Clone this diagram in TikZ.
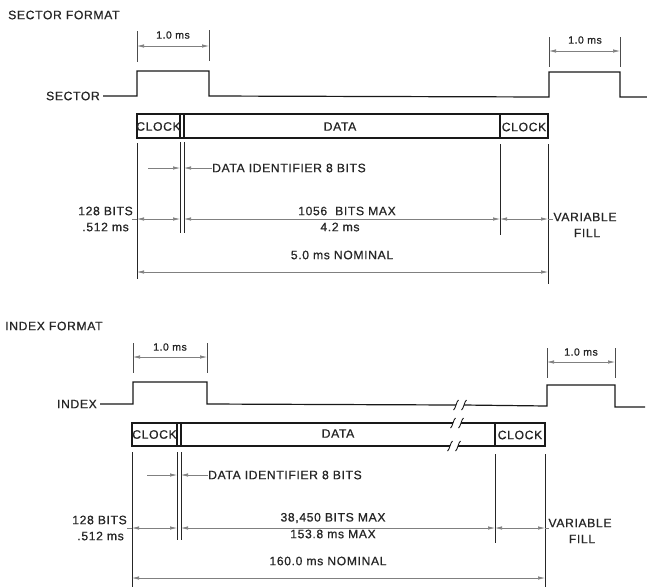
\documentclass[tikz,border=0pt]{standalone}
\usepackage{fontspec}
\setmainfont{Liberation Sans}[LetterSpace=5, FakeBold=0.6]
\usetikzlibrary{arrows.meta}
\tikzset{
  lbl/.style={inner sep=0pt, text=black!85, font=\fontsize{12.2}{14}\selectfont},
  smlbl/.style={inner sep=0pt, text=black!85, font=\fontsize{10.5}{12}\selectfont},
  wave/.style={line width=1.2pt, black!90},
  barline/.style={line width=1.1pt, black!90},
  extline/.style={line width=0.9pt, black!85},
  dimarrow/.style={line width=0.6pt, black!50, {Latex[length=7pt,width=3.4pt]}-{Latex[length=7pt,width=3.4pt]}},
  onearrow/.style={line width=0.6pt, black!50, -{Latex[length=7pt,width=3.4pt]}},
  plainline/.style={line width=0.6pt, black!50},
  breakmark/.pic={\draw[line width=0.9pt, black!90] (-2.5,5) .. controls (-0.5,4) and (0.5,-4) .. (2.5,-5);}
}
\begin{document}
\begin{tikzpicture}[x=1pt,y=-1pt]
\path[use as bounding box, fill=white] (0,0) rectangle (647,587);

% ================= SECTOR FORMAT =================
\node[lbl, anchor=west] (sf) at (8,15) {SECTOR FORMAT};

% waveform
\node[lbl, anchor=east] (sec) at (100,96) {SECTOR};
\coordinate (w0) at (103,96);
\coordinate (w1) at (137,96);
\coordinate (w2) at (137,71);
\coordinate (w3) at (209,71);
\coordinate (w4) at (209,96);
\coordinate (w5) at (549,97);
\coordinate (w6) at (549,72);
\coordinate (w7) at (620,72);
\coordinate (w8) at (620,97);
\coordinate (w9) at (647,97);
\draw[wave] (w0) -- (w1) -- (w2) -- (w3) -- (w4) -- (w5) -- (w6) -- (w7) -- (w8) -- (w9);

% 1.0 ms dimensions
\coordinate (ta1) at (137,31); \coordinate (ta2) at (137,62);
\coordinate (tb1) at (209,30); \coordinate (tb2) at (209,61);
\draw[plainline, black!70] (ta1) -- (ta2);
\draw[plainline, black!70] (tb1) -- (tb2);
\coordinate (da1) at (137,46); \coordinate (da2) at (209,46);
\draw[dimarrow] (da1) -- (da2);
\node[smlbl] (ms1) at (173,35) {1.0 ms};

\coordinate (tc1) at (549,37); \coordinate (tc2) at (549,67);
\coordinate (td1) at (620,37); \coordinate (td2) at (620,67);
\draw[plainline, black!70] (tc1) -- (tc2);
\draw[plainline, black!70] (td1) -- (td2);
\coordinate (db1) at (549,51); \coordinate (db2) at (620,51);
\draw[dimarrow] (db1) -- (db2);
\node[smlbl] (ms2) at (585,40) {1.0 ms};

% bar
\draw[barline] (137,114) rectangle (548,138);
\draw[barline] (180,114) -- (180,138);
\draw[barline] (184,114) -- (184,138);
\draw[barline] (500,114) -- (500,138);
\node[lbl] (clk1) at (158.5,126.5) {CLOCK};
\node[lbl] (data1) at (340,126.5) {DATA};
\node[lbl] (clk2) at (524,127) {CLOCK};

% extension lines
\draw[extline] (137,143) -- (137,279);
\draw[extline] (180,142) -- (180,233);
\draw[extline] (184,142) -- (184,233);
\draw[extline] (500,144) -- (500,235);
\draw[extline] (548,144) -- (548,284);

% data identifier
\node[lbl, anchor=west] (di1) at (212,168) {DATA IDENTIFIER 8 BITS};
\coordinate (dia) at (148,168); \coordinate (dib) at (180,168);
\coordinate (dic) at (184,168);
\draw[onearrow] (dia) -- (dib);
\draw[onearrow] (di1.west) -- (dic);

% bits row
\node[lbl, anchor=east] (b128) at (133,211) {128 BITS};
\node[lbl, anchor=east] (t512) at (129,227) {.512 ms};
\coordinate (r0) at (132,219); \coordinate (r1) at (137,219);
\coordinate (r2) at (180,219); \coordinate (r3) at (184,219);
\coordinate (r4) at (500,219); \coordinate (r5) at (548,219);
\coordinate (r6) at (553,219);
\draw[plainline] (r0) -- (r1);
\draw[dimarrow] (r1) -- (r2);
\draw[dimarrow] (r3) -- (r4);
\draw[dimarrow] (r4) -- (r5);
\draw[plainline] (r5) -- (r6);
\node[lbl] (bmax) at (347,211) {1056\ \ BITS MAX};
\node[lbl] (t42) at (340,227) {4.2 ms};
\node[lbl] (var1) at (585,217) {VARIABLE};
\node[lbl] (fill1) at (587,233) {FILL};

% nominal
\coordinate (n1) at (137,272); \coordinate (n2) at (548,272);
\draw[dimarrow] (n1) -- (n2);
\node[lbl] (nom1) at (342,255) {5.0 ms NOMINAL};

% ================= INDEX FORMAT =================
\node[lbl, anchor=west] (ixf) at (5,326) {INDEX FORMAT};

\node[lbl, anchor=east] (idx) at (97,404) {INDEX};
\coordinate (v0) at (100,404);
\coordinate (v1) at (133,404);
\coordinate (v2) at (133,382);
\coordinate (v3) at (207,382);
\coordinate (v4) at (207,404);
\coordinate (vb1) at (456,405);
\coordinate (vb2) at (464,405);
\coordinate (v5) at (547,406);
\coordinate (v6) at (547,385);
\coordinate (v7) at (615,385);
\coordinate (v8) at (615,407);
\coordinate (v9) at (645,407);
\draw[wave] (v0) -- (v1) -- (v2) -- (v3) -- (v4) -- (vb1);
\draw[wave] (vb2) -- (v5) -- (v6) -- (v7) -- (v8) -- (v9);
\pic at (vb1) {breakmark};
\pic at (vb2) {breakmark};

% 1.0 ms dimensions
\coordinate (te1) at (133,343); \coordinate (te2) at (133,373);
\coordinate (tf1) at (207,343); \coordinate (tf2) at (207,373);
\draw[plainline, black!70] (te1) -- (te2);
\draw[plainline, black!70] (tf1) -- (tf2);
\coordinate (dc1) at (133,357); \coordinate (dc2) at (207,357);
\draw[dimarrow] (dc1) -- (dc2);
\node[smlbl] (ms3) at (170,347) {1.0 ms};

\coordinate (tg1) at (547,348); \coordinate (tg2) at (547,378);
\coordinate (th1) at (615,348); \coordinate (th2) at (615,378);
\draw[plainline, black!70] (tg1) -- (tg2);
\draw[plainline, black!70] (th1) -- (th2);
\coordinate (dd1) at (547,362); \coordinate (dd2) at (615,362);
\draw[dimarrow] (dd1) -- (dd2);
\node[smlbl] (ms4) at (581,352) {1.0 ms};

% bar with break
\coordinate (ba1) at (453,423); \coordinate (ba2) at (461,423);
\coordinate (bb1) at (450,446); \coordinate (bb2) at (458,446);
\draw[barline] (ba1) -- (132,423) -- (132,446) -- (bb1);
\draw[barline] (ba2) -- (545,423) -- (545,446) -- (bb2);
\pic at (ba1) {breakmark};
\pic at (ba2) {breakmark};
\pic at (bb1) {breakmark};
\pic at (bb2) {breakmark};
\draw[barline] (177,423) -- (177,446);
\draw[barline] (181,423) -- (181,446);
\draw[barline] (495,423) -- (495,446);
\node[lbl] (clk3) at (154.5,434.5) {CLOCK};
\node[lbl] (data2) at (338,433.5) {DATA};
\node[lbl] (clk4) at (520,435) {CLOCK};

% extension lines
\draw[extline] (132,452) -- (132,587);
\draw[extline] (177,452) -- (177,540);
\draw[extline] (181,452) -- (181,540);
\draw[extline] (495,454) -- (495,543);
\draw[extline] (545,454) -- (545,587);

% data identifier
\node[lbl, anchor=west] (di2) at (208,475) {DATA IDENTIFIER 8 BITS};
\coordinate (dja) at (147,475); \coordinate (djb) at (177,475);
\coordinate (djc) at (181,475);
\draw[onearrow] (dja) -- (djb);
\draw[onearrow] (di2.west) -- (djc);

% bits row
\node[lbl, anchor=east] (c128) at (127,520) {128 BITS};
\node[lbl, anchor=east] (u512) at (124,536) {.512 ms};
\coordinate (s0) at (127,528); \coordinate (s1) at (132,528);
\coordinate (s2) at (177,528); \coordinate (s3) at (181,528);
\coordinate (s4) at (495,528); \coordinate (s5) at (545,528);
\coordinate (s6) at (549,528);
\draw[plainline] (s0) -- (s1);
\draw[dimarrow] (s1) -- (s2);
\draw[dimarrow] (s3) -- (s4);
\draw[dimarrow] (s4) -- (s5);
\draw[plainline] (s5) -- (s6);
\node[lbl] (cmax) at (333,518) {38,450 BITS MAX};
\node[lbl] (t153) at (333,534) {153.8 ms MAX};
\node[lbl] (var2) at (580,523) {VARIABLE};
\node[lbl] (fill2) at (582,539) {FILL};

% nominal
\coordinate (m1) at (132,578); \coordinate (m2) at (545,578);
\draw[dimarrow] (m1) -- (m2);
\node[lbl] (nom2) at (328,561) {160.0 ms NOMINAL};
\end{tikzpicture}
\end{document}
